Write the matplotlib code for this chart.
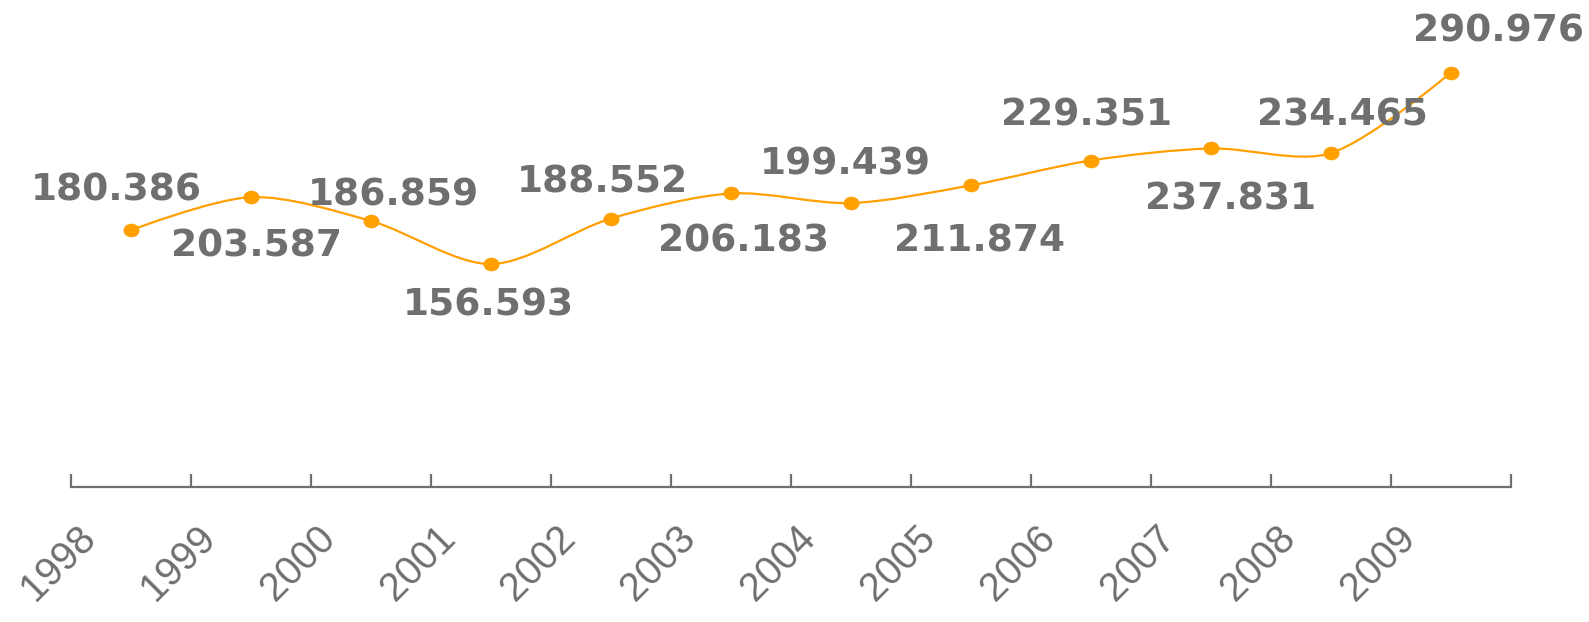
import numpy as np
import matplotlib
matplotlib.use("Agg")
import matplotlib.pyplot as plt
from matplotlib.path import Path
from matplotlib.patches import PathPatch
from matplotlib.transforms import Affine2D, ScaledTranslation

YEARS = ["1998", "1999", "2000", "2001", "2002", "2003",
         "2004", "2005", "2006", "2007", "2008", "2009"]
VALUES = [180.386, 203.587, 186.859, 156.593, 188.552, 206.183,
          199.439, 211.874, 229.351, 237.831, 234.465, 290.976]

# label centre offsets from each point, in pixels (screen: +y is down)
LABEL_DX = [-15, 6, 22, -3, -8, 13, -5, 9, -4, 20, 12, 48]
LABEL_DY = [-43, 46, -29, 38, -40, 44, -42, 53, -49, 47, -41, -45]

LINE = "#ffa000"
AXIS = "#707070"
TEXT = "#6f6f6f"
PX = 0.72  # points per pixel at dpi 100

fig = plt.figure(figsize=(15.89, 6.22), dpi=100)
ax = fig.add_axes([0.0447, 0.2175, 0.9059, 0.6860])
ax.set_xlim(-0.5, len(YEARS) - 0.5)
ax.set_ylim(0, 300)

for s in ("left", "top", "right"):
    ax.spines[s].set_visible(False)
ax.spines["bottom"].set_color(AXIS)
ax.spines["bottom"].set_linewidth(1.6)
ax.set_yticks([])

x = np.arange(len(YEARS))
ax.set_xticks(np.arange(-0.5, len(YEARS), 1))
ax.set_xticklabels([])
ax.tick_params(axis="x", which="major", direction="in", length=9.4,
               width=1.6, color=AXIS)
ax.set_xticks(x, minor=True)
ax.set_xticklabels(YEARS, minor=True, rotation=45, ha="right", va="top",
                   fontsize=28.5, family="Liberation Sans", color=TEXT)
ax.tick_params(axis="x", which="minor", length=0, pad=23)
shift = ScaledTranslation(-0.28, 0, fig.dpi_scale_trans)
for lab in ax.get_xticklabels(minor=True):
    lab.set_transform(lab.get_transform() + shift)


def smooth_path(xs, ys, smooth=0.3):
    pts = ax.transData.transform(np.column_stack([xs, ys]))
    n = len(pts)
    cin, cout = [], []
    for i in range(n):
        if i == 0 or i == n - 1:
            cin.append(pts[i])
            cout.append(pts[i])
            continue
        prev, nxt = pts[i - 1], pts[i + 1]
        v = nxt - prev
        d0 = np.linalg.norm(pts[i] - prev)
        d1 = np.linalg.norm(nxt - pts[i])
        cin.append(pts[i] - v * smooth * d0 / (d0 + d1))
        cout.append(pts[i] + v * smooth * d1 / (d0 + d1))
    verts = [pts[0]]
    codes = [Path.MOVETO]
    for i in range(n - 1):
        verts += [cout[i], cin[i + 1], pts[i + 1]]
        codes += [Path.CURVE4] * 3
    verts = ax.transData.inverted().transform(np.array(verts))
    return Path(verts, codes)


ax.add_patch(PathPatch(smooth_path(x, VALUES), facecolor="none",
                       edgecolor=LINE, lw=1.6, clip_on=False))

dot = Path(Affine2D().scale(1.2, 1.0).transform(Path.unit_circle().vertices),
           Path.unit_circle().codes)
ax.plot(x, VALUES, ls="none", marker=dot, ms=10.5, color=LINE, clip_on=False)

for i, v in enumerate(VALUES):
    ax.annotate(f"{v:.3f}", (i, v),
                xytext=(LABEL_DX[i] * PX, -(LABEL_DY[i] + 13.6) * PX),
                textcoords="offset points", ha="center", va="baseline",
                fontsize=27, fontweight="bold", family="DejaVu Sans",
                color=TEXT, annotation_clip=False)

fig.savefig("out.png", dpi=100)
